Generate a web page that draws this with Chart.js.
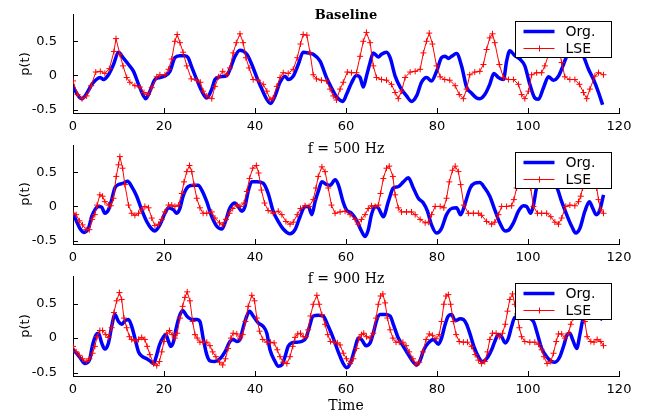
<!DOCTYPE html>
<html lang="en">
<head>
<meta charset="UTF-8">
<title>p(t) - Org. vs LSE</title>
<script src="https://cdn.jsdelivr.net/npm/chart.js"></script>
<style>
    body { margin: 0; background: #fff; width: 647px; height: 415px; position: relative; overflow: hidden; }
    canvas { position: absolute; left: 0; }
    .title { position: absolute; left: 73px; width: 546px; text-align: center; font-family: 'DejaVu Serif', serif; font-size: 14px; line-height: 14px; color: #000; white-space: nowrap; }
    .title.bold { font-weight: bold; font-size: 13px; }
    .ylab { position: absolute; font-family: 'DejaVu Sans', sans-serif; font-size: 13px; line-height: 13px; color: #000; transform: translate(-50%, -50%) rotate(-90deg); white-space: nowrap; }
    .xlab { position: absolute; left: 73px; width: 546px; text-align: center; font-family: 'DejaVu Serif', serif; font-size: 14px; line-height: 14px; color: #000; }
</style>
</head>
<body>
<canvas id="c1"></canvas>
<canvas id="c2"></canvas>
<canvas id="c3"></canvas>
<div class="title bold" style="top:8px;">Baseline</div>
<div class="title" style="top:141px;">f = 500 Hz</div>
<div class="title" style="top:271px;">f = 900 Hz</div>
<div class="ylab" style="left:24px;top:64px;">p(t)</div>
<div class="ylab" style="left:24px;top:194px;">p(t)</div>
<div class="ylab" style="left:24px;top:326px;">p(t)</div>
<div class="xlab" style="top:398px;">Time</div>
<script>
// tick labels
const xTicks = [0, 20, 40, 60, 80, 100, 120];
const yTicks = [-0.5, 0, 0.5];

// ---- Baseline ----
const baseOrgT = [0, 1.9, 4.5, 6, 6.7, 7.8, 8.9, 10, 11, 12.2, 13.3, 14.4, 15.5, 16, 16.9, 18, 19.1, 20.4, 21.3, 22.4, 23.5, 24.6, 25.3, 26, 27.2, 28.3, 29.4, 30.5, 31.2, 32.3, 33.8, 34.5, 35.6, 36.7, 38.2, 39.3, 40.4, 41.5, 42.6, 43.4, 44.4, 45.5, 46.6, 47.3, 48.4, 49.5, 50.6, 51.7, 52.8, 54.3, 55.7, 56.8, 57.9, 59.3, 60.1, 61.2, 62.3, 63.1, 63.8, 64.5, 65.3, 66, 67.1, 67.8, 68.9, 69.7, 70.8, 71.9, 73.3, 74.4, 75.5, 76.6, 77.7, 78.8, 79.9, 81, 81.8, 82.5, 83.2, 84.3, 85.4, 86.5, 87.6, 88.7, 89.4, 90.5, 91.6, 92.5, 93.5, 94.6, 95.3, 96, 97.1, 98.2, 99.3, 100.4, 101.5, 102.3, 103.4, 104.5, 105.6, 106.7, 107.8, 108.5, 109.5, 110.5, 111.5, 112.2, 113.3, 114.4, 115.5, 116.4];
const baseOrg = [-0.17, -0.34, -0.1, -0.03, -0.06, 0.01, 0.16, 0.34, 0.26, 0.16, 0.06, -0.13, -0.3, -0.34, -0.23, -0.06, -0.03, 0, 0.06, 0.26, 0.29, 0.29, 0.26, 0.14, -0.06, -0.23, -0.33, -0.2, -0.06, -0.02, 0, 0.09, 0.28, 0.37, 0.31, 0.16, -0.03, -0.2, -0.35, -0.41, -0.3, -0.1, -0.01, -0.06, -0.01, 0.16, 0.34, 0.33, 0.31, 0.21, -0.03, -0.18, -0.31, -0.38, -0.28, -0.11, 0, -0.03, -0.17, -0.01, 0.19, 0.33, 0.27, 0.31, 0.34, 0.26, -0.01, -0.17, -0.3, -0.38, -0.3, -0.1, -0.03, -0.08, 0.06, 0.26, 0.28, 0.25, 0.28, 0.32, 0.14, -0.17, -0.26, -0.33, -0.34, -0.28, -0.13, 0.03, -0.03, -0.06, 0.21, 0.36, 0.29, 0.24, 0.14, -0.13, -0.33, -0.35, -0.18, -0.02, -0.07, -0.01, 0.16, 0.28, 0.37, 0.4, 0.36, 0.28, 0.09, -0.06, -0.25, -0.43];
const baseLseT = [0, 1, 2, 3, 4, 5, 6, 7, 8, 9, 9.45, 10.3, 11, 11.8, 12.5, 13.6, 14.7, 15.6, 16.5, 17.3, 18.4, 19.1, 20.2, 21, 21.7, 22.4, 22.9, 23.5, 24.2, 25, 26, 27.2, 28, 28.6, 29.4, 30.5, 31.2, 32, 32.9, 33.8, 34.5, 35.2, 35.9, 36.7, 37.4, 38, 38.7, 39.6, 40.7, 41.8, 42.6, 43.3, 44, 44.8, 45.5, 46.2, 47.3, 48.4, 49.3, 50, 50.6, 51.4, 52.1, 52.8, 53.5, 54.6, 55.7, 56.5, 57.2, 57.9, 58.7, 59.4, 60.3, 61.2, 62.3, 63.1, 63.8, 64.5, 65.3, 66, 66.7, 67.8, 68.9, 70, 70.8, 71.5, 72.2, 73, 74.1, 75.2, 76.3, 77, 77.7, 78.3, 79, 79.9, 80.7, 81.7, 82.8, 84, 84.9, 85.8, 86.5, 87.2, 88.3, 89.4, 90.2, 90.9, 91.6, 92.2, 92.7, 93.7, 94.6, 95.7, 96.8, 97.9, 98.6, 99.3, 100.1, 100.8, 101.9, 103, 103.7, 104.5, 105.2, 105.9, 106.6, 107.4, 108.1, 109.2, 110.3, 111.3, 112.2, 112.9, 113.6, 114.7, 115.5, 116.6];
const baseLse = [-0.08, -0.28, -0.34, -0.3, -0.15, 0.05, 0.06, 0.03, 0.1, 0.35, 0.54, 0.31, 0.14, -0.03, -0.1, -0.15, -0.17, -0.25, -0.28, -0.18, -0.02, 0.01, 0.01, 0.09, 0.24, 0.5, 0.6, 0.48, 0.34, 0.14, -0.05, -0.07, -0.1, -0.23, -0.3, -0.34, -0.16, -0.02, 0.06, 0.01, 0.11, 0.33, 0.48, 0.61, 0.48, 0.26, 0.11, -0.06, -0.07, -0.13, -0.23, -0.35, -0.33, -0.16, -0.03, 0.04, 0.03, 0.09, 0.26, 0.46, 0.6, 0.59, 0.33, 0.01, -0.05, -0.07, -0.08, -0.2, -0.3, -0.36, -0.2, -0.1, 0.05, 0.04, 0.04, 0.28, 0.5, 0.63, 0.48, 0.14, -0.03, -0.06, -0.07, -0.13, -0.25, -0.34, -0.23, -0.03, 0.05, 0.06, 0.09, 0.33, 0.5, 0.62, 0.46, 0.14, -0.02, -0.06, -0.07, -0.15, -0.28, -0.34, -0.2, 0.01, 0.05, 0.06, 0.16, 0.38, 0.55, 0.61, 0.48, 0.16, -0.03, -0.06, -0.06, -0.13, -0.28, -0.34, -0.23, 0.01, 0.04, 0.04, 0.14, 0.3, 0.5, 0.6, 0.45, 0.19, -0.02, -0.06, -0.06, -0.13, -0.25, -0.34, -0.2, -0.01, 0.04, 0.01];

// ---- f = 500 Hz ----
const f500OrgT = [0, 0.8, 1.5, 2.4, 3.4, 4.1, 4.8, 5.6, 6.3, 7, 7.8, 8.5, 9.2, 10, 11.1, 12, 12.9, 14, 15.1, 16.2, 17.3, 18, 19.1, 20.2, 21, 22.1, 22.8, 23.5, 24.2, 25.3, 26.4, 27.5, 28.3, 29.4, 30.5, 31.6, 32.7, 33.4, 34.5, 35.6, 36.3, 37.1, 37.8, 38.5, 39.3, 40.4, 41.8, 42.9, 44, 45.1, 46.2, 47.7, 48.8, 49.9, 51, 51.7, 52.5, 53.2, 53.9, 54.7, 55.8, 56.5, 57.6, 58.3, 59.4, 60.1, 61.2, 62.3, 63.4, 64.2, 64.9, 65.6, 66.4, 67.1, 68.2, 69.3, 70.4, 71.5, 72.6, 73.7, 74.8, 75.9, 77, 77.9, 78.8, 79.9, 81, 82.1, 83.2, 84.3, 85.2, 86.2, 87.3, 88.3, 89.4, 90.5, 91.6, 92.7, 93.8, 95, 95.7, 96.8, 97.9, 99, 99.7, 100.6, 101.2, 101.9, 103, 104, 105.2, 106.3, 107.4, 108.5, 109.6, 110.5, 111.4, 112.5, 113.5, 114.2, 115, 115.8, 116.6];
const f500Org = [-0.1, -0.22, -0.32, -0.38, -0.32, -0.15, -0.05, 0, -0.01, -0.1, -0.05, 0.1, 0.27, 0.32, 0.34, 0.37, 0.29, 0.15, -0.05, -0.22, -0.33, -0.36, -0.27, -0.1, -0.02, -0.05, -0.1, -0.03, 0.15, 0.29, 0.31, 0.31, 0.24, 0.07, -0.15, -0.29, -0.33, -0.24, -0.02, 0.05, 0, -0.07, 0, 0.22, 0.36, 0.36, 0.34, 0.19, -0.07, -0.22, -0.33, -0.4, -0.34, -0.15, 0, 0, -0.12, 0.07, 0.22, 0.36, 0.32, 0.31, 0.39, 0.32, 0.06, -0.05, -0.1, -0.2, -0.36, -0.44, -0.34, -0.12, 0, -0.02, -0.15, 0.07, 0.27, 0.29, 0.36, 0.42, 0.27, 0.12, 0.05, -0.07, -0.27, -0.39, -0.32, -0.12, -0.03, -0.02, -0.12, 0.05, 0.27, 0.34, 0.35, 0.27, 0.15, -0.05, -0.24, -0.36, -0.35, -0.24, -0.07, 0.01, 0, -0.1, 0.02, 0.28, 0.4, 0.42, 0.38, 0.29, 0.07, -0.12, -0.29, -0.39, -0.32, -0.07, 0.07, -0.02, -0.12, -0.05, 0.17];
const f500LseT = [0, 0.7, 1.4, 2.1, 2.9, 3.6, 4.2, 4.8, 5.3, 5.9, 6.5, 7, 7.8, 8.3, 8.9, 9.5, 10, 10.3, 10.9, 11.4, 12.2, 12.9, 13.6, 14.4, 15.1, 15.8, 16.6, 17.3, 18, 18.8, 19.5, 20.2, 21, 21.7, 22.4, 23.2, 23.9, 24.4, 25, 25.6, 26.1, 26.6, 27.2, 27.9, 28.6, 29.4, 30.5, 31.2, 32.2, 32.9, 33.6, 34.4, 35.1, 36, 36.7, 37.6, 38.2, 38.8, 39.5, 40.3, 40.8, 41.4, 42.1, 42.9, 44, 45.1, 45.9, 46.8, 47.7, 48.4, 49.3, 50, 51, 51.9, 52.8, 53.4, 53.9, 54.7, 55.4, 56.1, 56.8, 57.6, 58.7, 59.8, 60.9, 62, 62.7, 63.4, 64.2, 64.9, 65.6, 66.4, 67.1, 67.6, 68.2, 68.9, 69.5, 70.3, 70.8, 71.5, 72.2, 73.3, 74.4, 75.2, 76.3, 77.4, 78.1, 78.8, 79.6, 80.7, 81.5, 82.1, 82.7, 83.4, 84, 84.7, 85.2, 85.9, 86.9, 88, 89.1, 89.8, 90.9, 92, 92.7, 93.5, 94.2, 95.3, 96.4, 96.9, 97.5, 98.2, 98.8, 99.5, 100.6, 101.2, 102.1, 103, 104.1, 105, 105.9, 106.7, 107.4, 108.3, 109.2, 110.3, 111.1, 111.6, 112, 112.7, 113.4, 114.2, 115.1, 115.5, 116, 116.6];
const f500Lse = [-0.1, -0.12, -0.21, -0.27, -0.34, -0.34, -0.19, -0.12, 0.02, 0.17, 0.15, 0.07, 0.02, 0.01, 0.12, 0.44, 0.61, 0.73, 0.56, 0.32, 0.02, -0.1, -0.13, -0.1, -0.05, 0, -0.02, -0.17, -0.28, -0.26, -0.19, -0.08, 0.02, 0.02, 0, 0.02, 0.19, 0.36, 0.51, 0.6, 0.51, 0.32, 0.12, -0.02, -0.1, -0.1, -0.08, -0.17, -0.24, -0.27, -0.19, -0.1, -0.03, 0.02, 0, 0.05, 0.22, 0.41, 0.56, 0.6, 0.49, 0.24, 0.05, -0.06, -0.1, -0.07, -0.12, -0.22, -0.26, -0.23, -0.12, -0.03, 0.01, 0, 0.1, 0.27, 0.44, 0.58, 0.51, 0.27, 0.02, -0.1, -0.08, -0.07, -0.12, -0.19, -0.26, -0.19, -0.12, -0.03, 0.01, 0, 0.02, 0.19, 0.41, 0.56, 0.59, 0.44, 0.17, -0.02, -0.08, -0.08, -0.08, -0.12, -0.19, -0.24, -0.23, -0.12, 0, 0, -0.02, 0.12, 0.36, 0.53, 0.59, 0.51, 0.32, 0.02, -0.1, -0.1, -0.1, -0.13, -0.22, -0.26, -0.23, -0.12, 0, 0, 0.01, 0.1, 0.27, 0.5, 0.6, 0.5, 0.27, 0, -0.1, -0.1, -0.1, -0.15, -0.23, -0.26, -0.17, 0, 0.02, 0.01, 0.07, 0.15, 0.27, 0.45, 0.58, 0.5, 0.27, 0.1, -0.05, -0.1];

// ---- f = 900 Hz ----
const f900OrgT = [0, 0.8, 1.7, 2.6, 3.6, 4.3, 5.1, 5.6, 6.3, 7, 7.8, 8.5, 9.2, 10, 10.7, 11.4, 12.2, 12.9, 13.6, 14.4, 15.1, 16.2, 16.9, 17.7, 18.2, 19, 19.9, 20.4, 21, 21.5, 22.1, 22.6, 23.4, 24.1, 25, 26.1, 27.2, 27.9, 28.6, 29.4, 30.1, 31.2, 32.3, 33.4, 34.5, 35.2, 36, 36.7, 37.4, 38.2, 38.8, 39.6, 40.7, 41.8, 42.6, 43.3, 44.4, 45.1, 45.9, 46.6, 47.3, 48.1, 49.2, 50.2, 51.2, 51.9, 52.8, 53.9, 55, 56.1, 57.2, 58.3, 59.4, 60.2, 61.1, 62, 62.7, 63.4, 64.4, 65.3, 66, 66.7, 67.5, 68.6, 69.7, 70.4, 71.5, 72.6, 73.7, 74.8, 75.5, 76.3, 77.1, 78.1, 79.2, 80.3, 81, 81.8, 82.5, 83.2, 84, 85.1, 85.8, 86.5, 87.3, 88.1, 89.1, 90, 90.9, 92, 92.7, 93.5, 94.2, 95, 95.7, 96.4, 97.1, 98.2, 99.7, 101.2, 101.9, 103, 104.1, 105.2, 105.9, 107, 107.9, 108.6, 109.2, 109.8, 110.7, 111.4, 112, 112.7, 113.5, 114.5, 115.5, 116.4];
const f900Org = [-0.17, -0.22, -0.3, -0.37, -0.32, -0.1, 0.05, 0.07, -0.07, -0.16, -0.07, 0.17, 0.34, 0.24, 0.2, 0.25, 0.27, 0.17, 0, -0.2, -0.26, -0.3, -0.33, -0.37, -0.29, -0.1, 0.02, 0.05, -0.05, -0.12, -0.05, 0.12, 0.32, 0.4, 0.32, 0.27, 0.27, 0.24, 0, -0.24, -0.33, -0.34, -0.3, -0.2, -0.05, -0.02, -0.05, -0.02, 0.15, 0.32, 0.39, 0.32, 0.22, 0.17, 0.07, -0.17, -0.34, -0.41, -0.39, -0.27, -0.12, -0.07, -0.06, -0.05, 0, 0.15, 0.32, 0.33, 0.32, 0.17, 0, -0.2, -0.37, -0.43, -0.34, -0.14, 0, -0.02, -0.11, -0.07, 0.07, 0.25, 0.34, 0.34, 0.32, 0.2, 0, -0.12, -0.24, -0.35, -0.39, -0.32, -0.17, -0.07, -0.02, -0.09, 0, 0.2, 0.32, 0.34, 0.25, 0.28, 0.27, 0.2, 0.05, -0.12, -0.27, -0.34, -0.3, -0.17, -0.05, 0.05, 0.02, -0.07, 0, 0.17, 0.3, 0.31, 0.3, 0.24, 0.1, -0.15, -0.27, -0.34, -0.35, -0.27, -0.1, 0.05, 0.07, -0.02, -0.15, 0.05, 0.25, 0.36, 0.38, 0.35, 0.3, 0.27];
const f900LseT = [0, 0.7, 1.4, 2.1, 2.9, 3.6, 4.3, 4.8, 5.3, 5.9, 6.5, 7.2, 7.8, 8.5, 9, 9.6, 10.2, 10.7, 11.2, 11.8, 12.4, 12.9, 13.6, 14.4, 15.1, 15.8, 16.3, 16.9, 17.7, 18.4, 19, 19.5, 20, 20.6, 21.2, 21.8, 22.4, 22.9, 23.5, 24.1, 24.6, 25.1, 25.7, 26.3, 26.8, 27.3, 27.9, 28.6, 29.4, 30.1, 30.7, 31.4, 32.2, 32.9, 33.5, 34.1, 34.7, 35.2, 36, 36.7, 37.3, 37.9, 38.5, 39.3, 39.9, 40.4, 41, 41.7, 42.6, 43.4, 44.2, 44.9, 45.5, 46.2, 47, 47.7, 48.3, 48.8, 49.4, 50, 50.6, 51.2, 51.7, 52.2, 52.8, 53.6, 54.1, 54.7, 55.4, 56, 56.6, 57.4, 58.1, 58.7, 59.4, 60.1, 60.9, 61.6, 62.3, 62.9, 63.4, 63.9, 64.5, 65.3, 66, 66.6, 67.1, 67.6, 68.1, 68.6, 69.1, 69.7, 70.3, 71, 71.7, 72.5, 73.2, 73.9, 74.7, 75.4, 76.1, 76.9, 77.6, 78.3, 79, 79.8, 80.5, 81, 81.5, 82, 82.5, 83, 83.6, 84.2, 84.9, 85.8, 86.7, 87.6, 88.4, 89.1, 89.8, 90.5, 91.1, 91.6, 92.2, 93, 93.7, 94.4, 95, 95.5, 96, 96.6, 97.1, 97.6, 98.1, 98.6, 99.3, 100.4, 101.5, 102.3, 103, 103.5, 104.2, 105, 105.6, 106.2, 106.7, 107.4, 108.1, 108.9, 109.4, 110, 110.6, 111.2, 111.8, 112.5, 113, 113.8, 114.5, 115.2, 116, 116.6];
const f900Lse = [-0.12, -0.2, -0.25, -0.3, -0.34, -0.3, -0.22, -0.12, 0.02, 0.11, 0.11, 0.05, 0.01, 0.15, 0.37, 0.54, 0.66, 0.56, 0.29, 0.15, 0.02, -0.02, -0.04, -0.02, 0.01, -0.02, -0.12, -0.24, -0.37, -0.4, -0.34, -0.2, -0.05, 0.07, 0.11, 0.05, 0, 0.07, 0.29, 0.46, 0.59, 0.67, 0.54, 0.24, 0.05, 0, -0.06, -0.06, -0.06, -0.11, -0.2, -0.27, -0.35, -0.39, -0.3, -0.15, 0, 0.07, 0.06, 0, 0.05, 0.24, 0.46, 0.62, 0.54, 0.29, 0.1, -0.02, -0.06, -0.06, -0.07, -0.17, -0.27, -0.35, -0.37, -0.27, -0.12, 0.01, 0.06, 0.07, 0.02, 0.02, 0.12, 0.32, 0.49, 0.62, 0.49, 0.34, 0.2, 0.05, -0.05, -0.06, -0.07, -0.1, -0.22, -0.3, -0.37, -0.3, -0.15, 0, 0.05, 0.07, 0.02, 0, 0.07, 0.29, 0.49, 0.61, 0.64, 0.51, 0.29, 0.12, 0, -0.06, -0.06, -0.06, -0.11, -0.2, -0.3, -0.38, -0.35, -0.2, -0.02, 0.06, 0.04, -0.01, 0.05, 0.24, 0.49, 0.61, 0.63, 0.49, 0.24, 0.05, -0.05, -0.06, -0.06, -0.12, -0.24, -0.32, -0.37, -0.34, -0.2, -0.02, 0.07, 0.07, 0.02, 0.07, 0.2, 0.39, 0.56, 0.64, 0.49, 0.35, 0.15, 0.02, -0.05, -0.06, -0.06, -0.09, -0.17, -0.27, -0.37, -0.34, -0.22, -0.05, 0.06, 0.06, 0, 0.07, 0.2, 0.3, 0.5, 0.6, 0.48, 0.24, 0.02, -0.05, -0.06, -0.02, -0.05, -0.11];

const Y_MIN = -0.55, Y_MAX = 0.9;

function pts(t, v) { return t.map((x, i) => ({ x: x, y: v[i] })); }

// inward MATLAB-style tick marks
const innerTicks = {
    id: 'innerTicks',
    afterDraw(chart) {
        const { ctx, chartArea, scales } = chart;
        ctx.save();
        ctx.strokeStyle = '#000';
        ctx.lineWidth = 1;
        ctx.beginPath();
        xTicks.forEach(v => {
            const px = Math.round(scales.x.getPixelForValue(v)) + 0.5;
            ctx.moveTo(px, chartArea.bottom);
            ctx.lineTo(px, chartArea.bottom - 5);
        });
        yTicks.forEach(v => {
            const py = Math.round(scales.y.getPixelForValue(v)) + 0.5;
            ctx.moveTo(chartArea.left, py);
            ctx.lineTo(chartArea.left + 5, py);
        });
        ctx.stroke();
        ctx.restore();
    }
};

// boxed legend drawn on top of the data
const boxLegend = {
    id: 'boxLegend',
    afterDatasetsDraw(chart) {
        const { ctx, chartArea } = chart;
        const x = Math.round(chartArea.right) - 103.5, y = Math.round(chartArea.top) + 7.5, w = 96, h = 36;
        ctx.save();
        ctx.fillStyle = '#fff';
        ctx.fillRect(x, y, w, h);
        ctx.strokeStyle = '#000';
        ctx.lineWidth = 1;
        ctx.strokeRect(x, y, w, h);
        // Org.
        ctx.strokeStyle = '#0000ff';
        ctx.lineWidth = 3.5;
        ctx.beginPath();
        ctx.moveTo(x + 8, y + 10); ctx.lineTo(x + 39, y + 10);
        ctx.stroke();
        // LSE
        ctx.strokeStyle = '#ff0000';
        ctx.lineWidth = 1;
        ctx.beginPath();
        ctx.moveTo(x + 8, y + 27); ctx.lineTo(x + 39, y + 27);
        ctx.moveTo(x + 24, y + 24); ctx.lineTo(x + 24, y + 30);
        ctx.stroke();
        ctx.fillStyle = '#000';
        ctx.font = '14px "DejaVu Sans", sans-serif';
        ctx.textBaseline = 'middle';
        ctx.fillText('Org.', x + 50, y + 11);
        ctx.fillText('LSE', x + 50, y + 28);
        ctx.restore();
    }
};

function makePanel(id, plotTop, plotBottom, orgT, org, lseT, lse) {
    const padTop = 8, axisH = 26;
    const canvas = document.getElementById(id);
    canvas.width = 647;
    canvas.height = (plotBottom - plotTop) + padTop + axisH;
    canvas.style.top = (plotTop - padTop) + 'px';
    return new Chart(canvas.getContext('2d'), {
        type: 'line',
        data: {
            datasets: [{
                label: 'Org.',
                data: pts(orgT, org),
                borderColor: '#0000ff',
                borderWidth: 3.5,
                pointRadius: 0,
                cubicInterpolationMode: 'monotone',
                order: 1
            }, {
                label: 'LSE',
                data: pts(lseT, lse),
                borderColor: '#ff0000',
                borderWidth: 1,
                tension: 0,
                pointStyle: 'cross',
                pointRadius: 3,
                pointBorderWidth: 1,
                pointBorderColor: '#ff0000',
                order: 0
            }]
        },
        options: {
            responsive: false,
            animation: false,
            devicePixelRatio: 1,
            layout: { padding: { top: padTop, right: 28, left: 0, bottom: 0 } },
            plugins: { legend: { display: false }, tooltip: { enabled: false } },
            scales: {
                x: {
                    type: 'linear', min: 0, max: 120,
                    grid: { display: false },
                    border: { display: true, color: '#000', width: 1 },
                    afterBuildTicks: s => { s.ticks = xTicks.map(v => ({ value: v })); },
                    afterFit: s => { s.height = axisH; s.paddingLeft = 0; s.paddingRight = 0; },
                    ticks: { color: '#000', padding: -2, maxRotation: 0, font: { family: 'DejaVu Sans', size: 13 }, callback: v => String(v) }
                },
                y: {
                    min: Y_MIN, max: Y_MAX,
                    grid: { display: false },
                    border: { display: true, color: '#000', width: 1 },
                    afterBuildTicks: s => { s.ticks = yTicks.map(v => ({ value: v })); },
                    afterFit: s => { s.width = 73; s.paddingTop = 0; s.paddingBottom = 0; },
                    ticks: { color: '#000', padding: 8, font: { family: 'DejaVu Sans', size: 13 }, callback: v => String(v) }
                }
            }
        },
        plugins: [innerTicks, boxLegend]
    });
}

makePanel('c1', 14, 113, baseOrgT, baseOrg, baseLseT, baseLse);
makePanel('c2', 145, 244, f500OrgT, f500Org, f500LseT, f500Lse);
makePanel('c3', 276, 376, f900OrgT, f900Org, f900LseT, f900Lse);
</script>
</body>
</html>
